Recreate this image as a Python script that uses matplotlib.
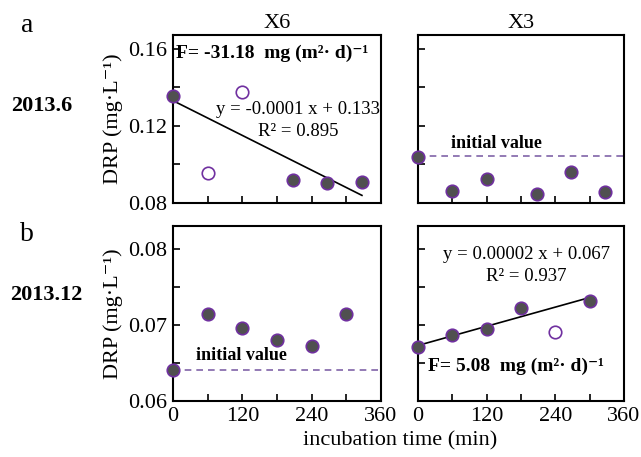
import numpy as np
import matplotlib
matplotlib.use("Agg")
from matplotlib import pyplot as plt

plt.rcParams['font.family'] = ['Liberation Serif', 'DejaVu Serif']

# data
x6_jun_t = [0, 208, 267, 327]
x6_jun_drp = [0.1355, 0.0920, 0.0906, 0.0911]
x6_jun_out_t = [60, 120]
x6_jun_out_drp = [0.0955, 0.1374]
x6_jun_fit = (-0.00015, 0.133)

x3_jun_t = [0, 60, 120, 208, 267, 327]
x3_jun_drp = [0.1040, 0.0860, 0.0922, 0.0847, 0.0960, 0.0855]
x3_jun_init = 0.1042

x6_dec_t = [0, 60, 120, 180, 240, 300]
x6_dec_drp = [0.0641, 0.0714, 0.0696, 0.0680, 0.0672, 0.0714]
x6_dec_init = 0.0641

x3_dec_t = [0, 60, 120, 180, 300]
x3_dec_drp = [0.0671, 0.0687, 0.0695, 0.0722, 0.0731]
x3_dec_out_t = [240]
x3_dec_out_drp = [0.0691]
x3_dec_fit = (0.000021, 0.0673)

fill_c = '#505050'
edge_c = '#7030a0'
dash_c = '#8064a8'

fig = plt.figure(figsize=(6.41, 4.57), dpi=100)
W, H = 641, 457


def add_ax(x0, y0, x1, y1):
    return fig.add_axes([x0 / W, 1 - y1 / H, (x1 - x0) / W, (y1 - y0) / H])


ax1 = add_ax(173, 35, 381, 203)
ax2 = add_ax(418, 35, 624, 203)
ax3 = add_ax(173, 226, 381, 401)
ax4 = add_ax(418, 226, 624, 401)


def filled(ax, t, v):
    ax.plot(t, v, 'o', ms=9, mfc=fill_c, mec=edge_c, mew=1.2, clip_on=False, zorder=4)


def hollow(ax, t, v):
    ax.plot(t, v, 'o', ms=9, mfc='white', mec=edge_c, mew=1.2, clip_on=False, zorder=4)


for ax in (ax1, ax2, ax3, ax4):
    ax.set_xlim(0, 360)
    ax.set_xticks(np.arange(0, 361, 60))
    ax.tick_params(direction='in', length=5, width=1.2, labelsize=16, pad=4)
    for s in ax.spines.values():
        s.set_linewidth(1.5)

for ax in (ax1, ax2):
    ax.set_ylim(0.08, 0.167)
    ax.set_yticks(np.arange(0.08, 0.161, 0.02))
    ax.set_xticklabels([])

for ax in (ax3, ax4):
    ax.set_ylim(0.06, 0.083)
    ax.set_yticks(np.arange(0.06, 0.0801, 0.005))
    ax.set_xticklabels(['0', '', '120', '', '240', '', '360'])

ax1.set_yticklabels(['0.08', '', '0.12', '', '0.16'])
ax3.set_yticklabels(['0.06', '', '0.07', '', '0.08'])
ax2.set_yticklabels([])
ax4.set_yticklabels([])

flux_fmt = 'F= {}  mg (m²· d)⁻¹'

# a: X6
filled(ax1, x6_jun_t, x6_jun_drp)
hollow(ax1, x6_jun_out_t, x6_jun_out_drp)
xl = np.array([0, 327])
ax1.plot(xl, x6_jun_fit[0] * xl + x6_jun_fit[1], color='black', lw=1.2)
ax1.text(5, 0.1575, flux_fmt.format('-31.18'), fontsize=14, fontweight='bold', va='center')
ax1.text(0.6, 0.1285, 'y = -0.0001 x + 0.133', fontsize=13.5, ha='center', va='center',
         transform=ax1.get_yaxis_transform())
ax1.text(0.6, 0.117, 'R² = 0.895', fontsize=13.5, ha='center', va='center',
         transform=ax1.get_yaxis_transform())

# a: X3
filled(ax2, x3_jun_t, x3_jun_drp)
ax2.axhline(x3_jun_init, color=dash_c, ls=(0, (4, 3)), lw=1.2)
ax2.text(58, 0.111, 'initial value', fontsize=13, fontweight='bold', va='center')

# b: X6
filled(ax3, x6_dec_t, x6_dec_drp)
ax3.axhline(x6_dec_init, color=dash_c, ls=(0, (4, 3)), lw=1.2)
ax3.text(40, 0.0660, 'initial value', fontsize=13, fontweight='bold', va='center')

# b: X3
filled(ax4, x3_dec_t, x3_dec_drp)
hollow(ax4, x3_dec_out_t, x3_dec_out_drp)
xl = np.array([0, 300])
ax4.plot(xl, x3_dec_fit[0] * xl + x3_dec_fit[1], color='black', lw=1.2)
ax4.text(190, 0.0792, 'y = 0.00002 x + 0.067', fontsize=13.5, ha='center', va='center')
ax4.text(190, 0.0763, 'R² = 0.937', fontsize=13.5, ha='center', va='center')
ax4.text(18, 0.0646, flux_fmt.format('5.08'), fontsize=14, fontweight='bold', va='center')

ax1.set_title('X6', fontsize=16, pad=5)
ax2.set_title('X3', fontsize=16, pad=5)

ax1.set_ylabel('DRP (mg·L⁻¹)', fontsize=16, labelpad=4)
ax3.set_ylabel('DRP (mg·L⁻¹)', fontsize=16, labelpad=4)

fig.text(400 / W, 1 - 441 / H, 'incubation time (min)', fontsize=16, ha='center', va='center')
fig.text(27 / W, 1 - 26 / H, 'a', fontsize=20, ha='center', va='center')
fig.text(27 / W, 1 - 234 / H, 'b', fontsize=20, ha='center', va='center')
fig.text(42 / W, 1 - 106 / H, '2013.6', fontsize=16, fontweight='bold', ha='center', va='center')
fig.text(46 / W, 1 - 295 / H, '2013.12', fontsize=16, fontweight='bold', ha='center', va='center')

fig.savefig('out.png', dpi=100)
